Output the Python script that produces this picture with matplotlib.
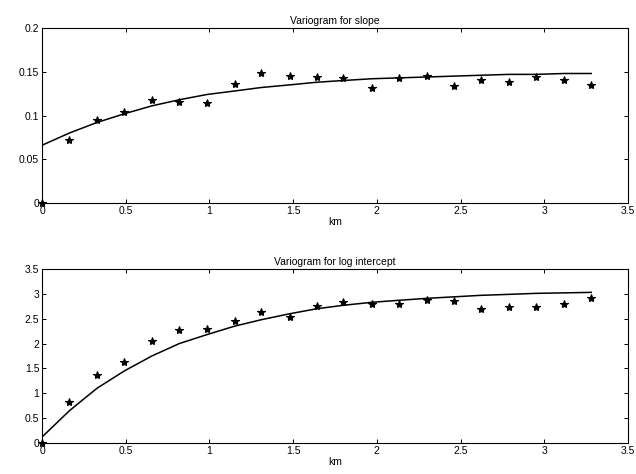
import matplotlib
matplotlib.use('Agg')
import matplotlib.pyplot as plt

# lag distances (km)
lags = [0, 0.164, 0.328, 0.492, 0.656, 0.82, 0.985, 1.15, 1.31, 1.48, 1.64,
        1.80, 1.97, 2.13, 2.30, 2.46, 2.62, 2.79, 2.95, 3.12, 3.28]

# empirical variogram, slope
slope_pts = [0, 0.072, 0.095, 0.104, 0.118, 0.116, 0.114, 0.136, 0.149, 0.145, 0.144,
             0.143, 0.131, 0.143, 0.145, 0.134, 0.140, 0.138, 0.144, 0.141, 0.135]
# fitted model, slope
slope_fit = [0.066, 0.080, 0.092, 0.102, 0.111, 0.118, 0.124, 0.128, 0.132, 0.135, 0.138,
             0.140, 0.142, 0.143, 0.144, 0.145, 0.146, 0.147, 0.147, 0.148, 0.148]

# empirical variogram, log intercept
icpt_pts = [0, 0.82, 1.37, 1.62, 2.05, 2.28, 2.29, 2.45, 2.63, 2.54, 2.75,
            2.83, 2.79, 2.80, 2.88, 2.85, 2.69, 2.73, 2.73, 2.79, 2.92]
# fitted model, log intercept
icpt_fit = [0.12, 0.65, 1.10, 1.45, 1.75, 2.00, 2.18, 2.35, 2.48, 2.60, 2.70,
            2.77, 2.83, 2.87, 2.91, 2.94, 2.97, 2.99, 3.01, 3.02, 3.03]

xticks = [0, 0.5, 1, 1.5, 2, 2.5, 3, 3.5]

plt.rcParams['font.family'] = ['Liberation Sans', 'DejaVu Sans']
plt.rcParams['font.size'] = 7.5

fig = plt.figure(figsize=(6.36, 4.74), dpi=100)
ax1 = fig.add_axes([42/636, 1 - 203/474, 586/636, 175/474])
ax2 = fig.add_axes([42/636, 1 - 443/474, 586/636, 174/474])

panels = [
    (ax1, slope_pts, slope_fit, 'Variogram for slope', (0, 0.2), [0, 0.05, 0.1, 0.15, 0.2]),
    (ax2, icpt_pts, icpt_fit, 'Variogram for log intercept', (0, 3.5), [0, 0.5, 1, 1.5, 2, 2.5, 3, 3.5]),
]
for ax, pts, fit, title, ylim, yticks in panels:
    ax.plot(lags, fit, color='black', lw=1.1)
    ax.plot(lags, pts, '*', color='black', ms=6, mew=0.8, clip_on=False)
    ax.set_xlim(0, 3.5)
    ax.set_ylim(*ylim)
    ax.set_xticks(xticks)
    ax.set_xticklabels(['0', '0.5', '1', '1.5', '2', '2.5', '3', '3.5'])
    ax.set_yticks(yticks)
    ax.set_yticklabels(['%g' % v for v in yticks])
    ax.tick_params(direction='in', top=True, right=True, length=3, width=0.7, pad=2)
    for s in ax.spines.values():
        s.set_linewidth(0.8)
    ax.set_title(title, fontsize=7.5, pad=3)
    ax.set_xlabel('km', labelpad=1)

fig.savefig('out.png', dpi=100)
